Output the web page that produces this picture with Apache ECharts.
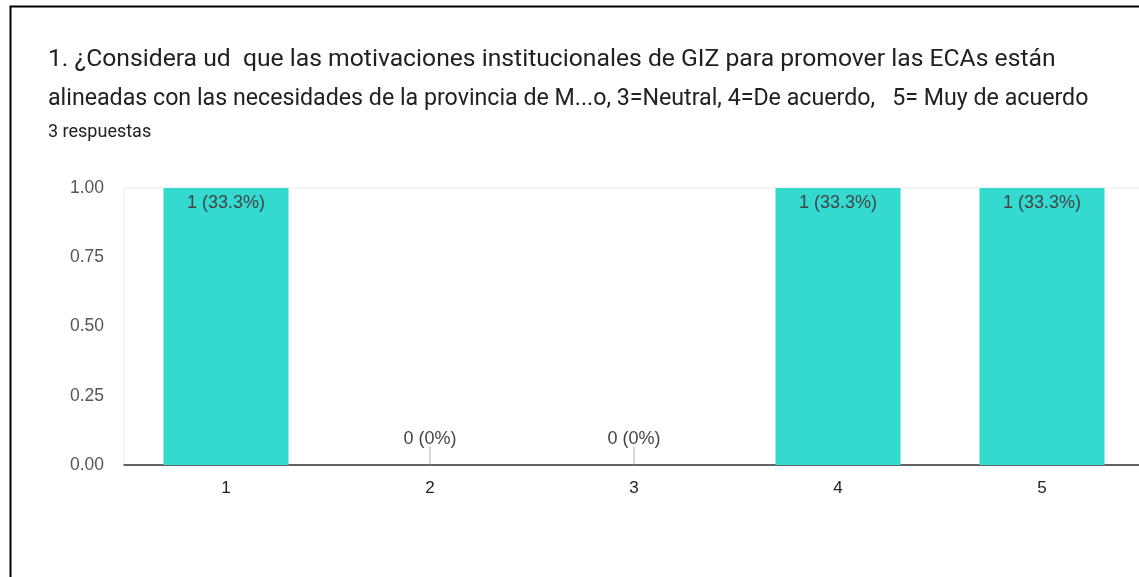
<!DOCTYPE html>
<html>
<head>
<meta charset="utf-8">
<script src="https://cdn.jsdelivr.net/npm/echarts@6/dist/echarts.min.js"></script>
<style>
html,body{margin:0;padding:0;background:#fff;overflow:hidden;}
#chart{width:1170px;height:577px;}
</style>
</head>
<body>
<div id="chart"></div>
<script>
const titleLine1 = '1. ¿Considera ud  que las motivaciones institucionales de GIZ para promover las ECAs están';
const titleLine2 = 'alineadas con las necesidades de la provincia de M...o, 3=Neutral, 4=De acuerdo,   5= Muy de acuerdo';
const subtitle = '3 respuestas';
const categories = ['1', '2', '3', '4', '5'];
const counts = [1, 0, 0, 1, 1];
const totalResponses = 3;
const yTicks = [0, 0.25, 0.5, 0.75, 1];

function pctText(v) {
  const p = v / totalResponses * 100;
  const s = p.toFixed(1);
  return (s.endsWith('.0') ? s.slice(0, -2) : s);
}

const barData = counts.map(v => ({
  value: v,
  label: v === 0
    ? { position: 'top', distance: 17 }
    : { position: 'insideTop', distance: 6 }
}));
const zeroStems = counts.map(v => (v === 0 ? 0 : '-'));

const chart = echarts.init(document.getElementById('chart'), null, { renderer: 'canvas' });
chart.setOption({
  animation: false,
  backgroundColor: '#ffffff',
  title: [
    {
      text: titleLine1,
      left: 43, top: 36,
      textStyle: { fontFamily: 'Roboto', fontSize: 24.7, fontWeight: 'normal', color: '#202124', lineHeight: 38 }
    },
    {
      text: titleLine2,
      left: 43, top: 79,
      textStyle: { fontFamily: 'Roboto', fontSize: 23.2, fontWeight: 'normal', color: '#202124', lineHeight: 30 }
    },
    {
      text: subtitle,
      left: 43, top: 117,
      textStyle: { fontFamily: 'Roboto', fontSize: 18, fontWeight: 'normal', color: '#202124', lineHeight: 20 }
    }
  ],
  graphic: [
    {
      type: 'rect', left: 8, top: 4, silent: true,
      shape: { width: 1300, height: 800 },
      style: { fill: 'none', stroke: '#000', lineWidth: 2 }
    }
  ],
  grid: {
    left: 124, top: 188, width: 1020, height: 277,
    show: true, borderColor: '#ececec', borderWidth: 1, backgroundColor: 'transparent'
  },
  xAxis: {
    type: 'category',
    data: categories,
    axisLine: { lineStyle: { color: '#333', width: 1.5 } },
    axisTick: { show: false },
    axisLabel: { fontFamily: 'Liberation Sans', fontSize: 17, color: '#222', margin: 15 }
  },
  yAxis: {
    type: 'value',
    min: yTicks[0], max: yTicks[yTicks.length - 1], interval: yTicks[1] - yTicks[0],
    axisLine: { show: false },
    axisTick: { show: false },
    splitLine: { show: false },
    axisLabel: {
      fontFamily: 'Liberation Sans', fontSize: 17.5, color: '#555', margin: 20,
      formatter: v => v.toFixed(2)
    }
  },
  series: [
    {
      type: 'bar',
      data: barData,
      barWidth: 125,
      itemStyle: { color: '#34d9cf' },
      label: {
        show: true,
        fontFamily: 'Liberation Sans', fontSize: 18, color: '#444',
        formatter: p => p.value + ' (' + pctText(p.value) + '%)'
      },
      z: 2
    },
    {
      type: 'scatter',
      data: zeroStems,
      symbol: 'rect',
      symbolSize: [1, 18],
      symbolOffset: [0, '-50%'],
      itemStyle: { color: '#999' },
      silent: true,
      z: 3
    }
  ]
});
</script>
</body>
</html>
